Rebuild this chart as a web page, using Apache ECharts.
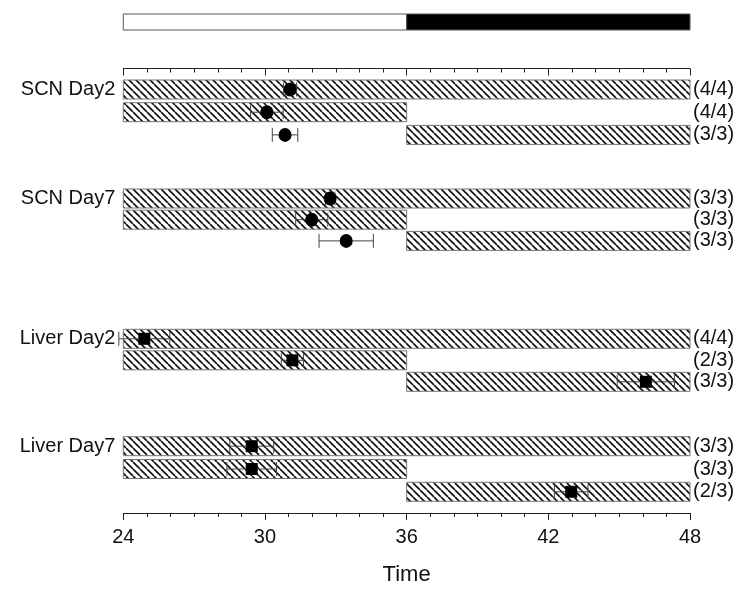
<!DOCTYPE html>
<html><head><meta charset="utf-8">
<script src="https://cdn.jsdelivr.net/npm/echarts@6/dist/echarts.min.js"></script>
<style>html,body{margin:0;padding:0;background:#fff}#c{width:750px;height:593px}</style>
</head><body><div id="c"></div>
<script>
// ---------- data ----------
const groups = ['SCN Day2', 'SCN Day7', 'Liver Day2', 'Liver Day7'];
const rowStart = [24, 24, 36];
const rowEnd = [48, 36, 48];
const peakSCNDay2 = [31.06, 30.08, 30.85];
const errSCNDay2 = [0.28, 0.69, 0.54];
const peakSCNDay7 = [32.76, 31.98, 33.44];
const errSCNDay7 = [0.2, 0.68, 1.15];
const peakLiverDay2 = [24.89, 31.16, 46.13];
const errLiverDay2 = [1.08, 0.47, 1.21];
const peakLiverDay7 = [29.44, 29.44, 42.97];
const errLiverDay7 = [0.93, 1.05, 0.71];
const fracSCNDay2 = ['(4/4)', '(4/4)', '(3/3)'];
const fracSCNDay7 = ['(3/3)', '(3/3)', '(3/3)'];
const fracLiverDay2 = ['(4/4)', '(2/3)', '(3/3)'];
const fracLiverDay7 = ['(3/3)', '(3/3)', '(2/3)'];
const lightPhase = [24, 36];
const darkPhase = [36, 48];
const xMin = 24, xMax = 48, xStep = 6;

// ---------- layout ----------
const peaks = [peakSCNDay2, peakSCNDay7, peakLiverDay2, peakLiverDay7];
const errs = [errSCNDay2, errSCNDay7, errLiverDay2, errLiverDay7];
const fracs = [fracSCNDay2, fracSCNDay7, fracLiverDay2, fracLiverDay7];
const groupOffset = [21, 130, 270.3, 377.7];
const rowStep = [22.7, 21.2, 21.5, 22.8];
const plotH = 444.5;
const rowY = (g, r) => groupOffset[g] + r * rowStep[g];
const FONT = '"Liberation Sans", Arial, sans-serif';
const TXT = '#111';

// hatch pattern
const pc = document.createElement('canvas');
const S = 7; pc.width = S; pc.height = S;
const cx = pc.getContext('2d');
cx.fillStyle = '#fff'; cx.fillRect(0, 0, S, S);
cx.strokeStyle = '#111'; cx.lineWidth = 1.7;
for (const k of [-S, 0, S]) { cx.beginPath(); cx.moveTo(k, 0); cx.lineTo(k + S, S); cx.stroke(); }
const hatch = { image: pc, repeat: 'repeat' };

const barData = [], errData = [], circleData = [], squareData = [], fracData = [], groupData = [];
groups.forEach((name, g) => {
  groupData.push([xMin, rowY(g, 0), name]);
  for (let r = 0; r < 3; r++) {
    const y = rowY(g, r);
    barData.push([rowStart[r], rowEnd[r], y]);
    errData.push([peaks[g][r], errs[g][r], y]);
    (g < 2 ? circleData : squareData).push([peaks[g][r], y]);
    fracData.push([xMax, y, fracs[g][r]]);
  }
});

const axisCommon = {
  type: 'value', min: xMin, max: xMax, interval: xStep,
  axisLine: { show: true, onZero: false, lineStyle: { color: '#222', width: 1 } },
  axisTick: { show: true, length: 7, lineStyle: { color: '#222', width: 1 } },
  minorTick: { show: true, splitNumber: 6, length: 4, lineStyle: { color: '#222', width: 1 } },
  splitLine: { show: false }
};

const chart = echarts.init(document.getElementById('c'), null, { renderer: 'canvas' });
chart.setOption({
  animation: false,
  backgroundColor: '#fff',
  grid: [
    { left: 123.3, right: 60, top: 68.5, bottom: 80 },
    { left: 123.3, right: 60, top: 14, height: 16 }
  ],
  xAxis: [
    Object.assign({}, axisCommon, {
      gridIndex: 0, position: 'bottom',
      axisLabel: { fontSize: 20, color: TXT, fontFamily: FONT, margin: 14 },
      name: 'Time', nameLocation: 'middle', nameGap: 51,
      nameTextStyle: { fontSize: 22, color: TXT, fontFamily: FONT }
    }),
    Object.assign({}, axisCommon, {
      gridIndex: 0, position: 'top',
      axisTick: { show: true, inside: true, length: 7, lineStyle: { color: '#222', width: 1 } },
      minorTick: { show: true, splitNumber: 6, length: 4, lineStyle: { color: '#222', width: 1 } },
      axisLabel: { show: false }
    }),
    { type: 'value', gridIndex: 1, min: xMin, max: xMax, show: false }
  ],
  yAxis: [
    { type: 'value', gridIndex: 0, min: 0, max: plotH, inverse: true, show: false },
    { type: 'value', gridIndex: 1, min: 0, max: 1, show: false }
  ],
  series: [
    {
      type: 'custom', xAxisIndex: 2, yAxisIndex: 1,
      data: [[lightPhase[0], lightPhase[1], 0], [darkPhase[0], darkPhase[1], 1]],
      renderItem(params, api) {
        const a = api.coord([api.value(0), 1]);
        const b = api.coord([api.value(1), 0]);
        return { type: 'rect', shape: { x: a[0], y: a[1], width: b[0] - a[0], height: b[1] - a[1] },
          style: { fill: api.value(2) ? '#000' : '#fff', stroke: '#555', lineWidth: 1 } };
      }
    },
    {
      type: 'custom', xAxisIndex: 0, yAxisIndex: 0, clip: false,
      data: barData,
      renderItem(params, api) {
        const a = api.coord([api.value(0), api.value(2)]);
        const b = api.coord([api.value(1), api.value(2)]);
        return { type: 'rect', shape: { x: a[0], y: a[1] - 9.5, width: b[0] - a[0], height: 19 },
          style: { fill: hatch, stroke: '#777', lineWidth: 1 } };
      }
    },
    {
      type: 'custom', xAxisIndex: 0, yAxisIndex: 0, clip: false,
      data: errData,
      renderItem(params, api) {
        const m = api.value(0), e = api.value(1), y = api.value(2);
        const a = api.coord([m - e, y]);
        const b = api.coord([m + e, y]);
        const st = { stroke: '#444', lineWidth: 1 };
        return { type: 'group', children: [
          { type: 'line', shape: { x1: a[0], y1: a[1], x2: b[0], y2: b[1] }, style: st },
          { type: 'line', shape: { x1: a[0], y1: a[1] - 7, x2: a[0], y2: a[1] + 7 }, style: st },
          { type: 'line', shape: { x1: b[0], y1: b[1] - 7, x2: b[0], y2: b[1] + 7 }, style: st }
        ] };
      }
    },
    {
      type: 'scatter', xAxisIndex: 0, yAxisIndex: 0, data: circleData,
      symbol: 'circle', symbolSize: [13, 14], itemStyle: { color: '#000', opacity: 1 }, z: 5
    },
    {
      type: 'scatter', xAxisIndex: 0, yAxisIndex: 0, data: squareData,
      symbol: 'rect', symbolSize: 12, itemStyle: { color: '#000', opacity: 1 }, z: 5
    },
    {
      type: 'custom', xAxisIndex: 0, yAxisIndex: 0, clip: false,
      data: fracData,
      renderItem(params, api) {
        const p = api.coord([api.value(0), api.value(1)]);
        return { type: 'text', x: p[0] + 3, y: p[1],
          style: { text: fracData[params.dataIndex][2], fill: TXT, font: '20px ' + FONT,
            textAlign: 'left', textVerticalAlign: 'middle' } };
      }
    },
    {
      type: 'custom', xAxisIndex: 0, yAxisIndex: 0, clip: false,
      data: groupData,
      renderItem(params, api) {
        const p = api.coord([api.value(0), api.value(1)]);
        return { type: 'text', x: p[0] - 8, y: p[1],
          style: { text: groupData[params.dataIndex][2], fill: TXT, font: '20px ' + FONT,
            textAlign: 'right', textVerticalAlign: 'middle' } };
      }
    }
  ]
});
</script>
</body></html>
